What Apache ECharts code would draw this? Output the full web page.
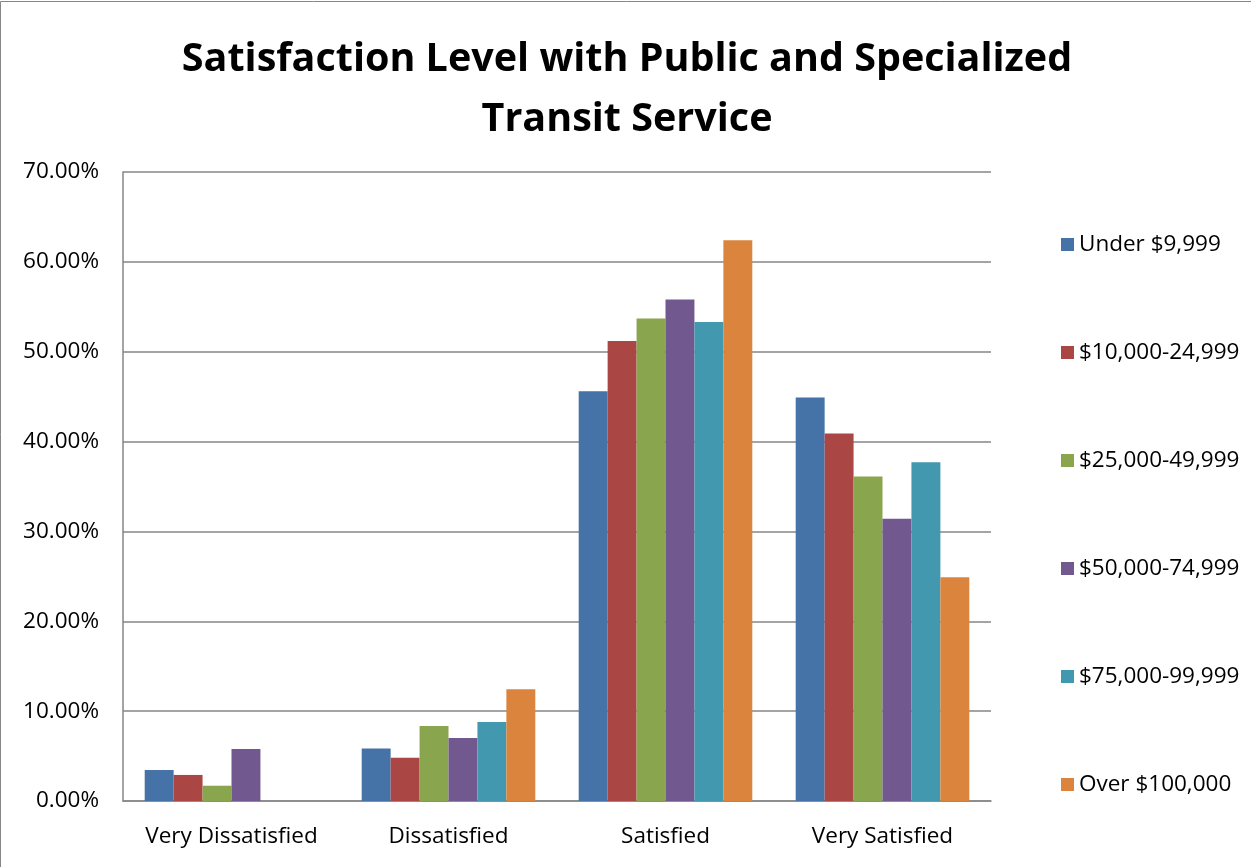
<!DOCTYPE html>
<html><head><meta charset="utf-8">
<script src="https://cdn.jsdelivr.net/npm/echarts@6/dist/echarts.min.js"></script>
<style>html,body{margin:0;padding:0;background:#fff}#c{width:1251px;height:867px}</style>
</head><body><div id="c"></div>
<script>
const categories = ['Very Dissatisfied', 'Dissatisfied', 'Satisfied', 'Very Satisfied'];
const seriesNames = ['Under $9,999', '$10,000-24,999', '$25,000-49,999', '$50,000-74,999', '$75,000-99,999', 'Over $100,000'];
const under9999 = [3.45, 5.85, 45.6, 44.9];
const s10to25 = [2.9, 4.8, 51.2, 40.9];
const s25to50 = [1.7, 8.35, 53.7, 36.1];
const s50to75 = [5.8, 7.0, 55.8, 31.4];
const s75to100 = [0, 8.8, 53.3, 37.7];
const over100 = [0, 12.45, 62.4, 24.9];
const colors = ['#4572A7', '#AA4643', '#89A54E', '#71588F', '#4198AF', '#DB843D'];
const allData = [under9999, s10to25, s25to50, s50to75, s75to100, over100];

const chart = echarts.init(document.getElementById('c'));
const font = "'Open Sans', 'Liberation Sans', sans-serif";
chart.setOption({
  animation: false,
  color: colors,
  title: {
    text: 'Satisfaction Level with Public and Specialized\nTransit Service',
    left: 622, textAlign: 'center', top: 25,
    textStyle: { fontFamily: font, fontSize: 39.5, fontWeight: 'bold', color: '#000', lineHeight: 60 }
  },
  legend: {
    orient: 'vertical', left: 1056, top: 228,
    itemWidth: 13, itemHeight: 13, itemGap: 85, icon: 'rect',
    textStyle: { fontFamily: font, fontSize: 22.5, lineHeight: 23, color: '#000' },
    data: seriesNames
  },
  grid: { left: 123, right: 260, top: 172, bottom: 66 },
  xAxis: {
    type: 'category', data: categories,
    axisLine: { lineStyle: { color: '#868686', width: 1.5 } },
    axisTick: { show: false },
    axisLabel: { interval: 0, fontFamily: font, fontSize: 22.5, color: '#000', margin: 24 }
  },
  yAxis: {
    type: 'value', min: 0, max: 70, interval: 10,
    axisLine: { show: true, lineStyle: { color: '#868686', width: 1.5 } },
    axisTick: { show: false },
    splitLine: { lineStyle: { color: '#868686', width: 1.5 } },
    axisLabel: { fontFamily: font, fontSize: 22.5, color: '#000', margin: 24, formatter: v => v.toFixed(2) + '%' }
  },
  graphic: [{ type: 'rect', shape: { x: 0.5, y: 1.5, width: 1260, height: 880 }, style: { fill: 'none', stroke: '#868686', lineWidth: 1 }, silent: true }],
  series: allData.map((d, i) => ({
    name: seriesNames[i], type: 'bar', data: d,
    barGap: '0%', barCategoryGap: '20%',
    itemStyle: { color: colors[i] }
  }))
});
</script></body></html>
